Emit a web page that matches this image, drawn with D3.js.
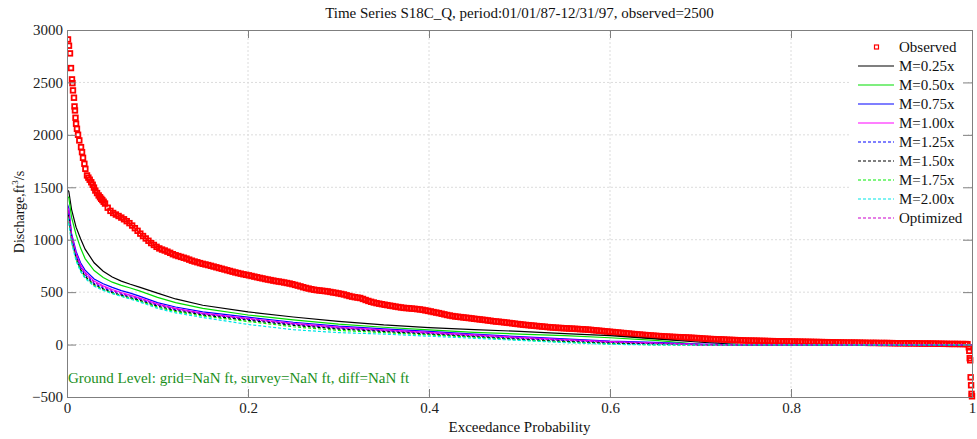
<!DOCTYPE html>
<html>
<head>
<meta charset="utf-8">
<script src="https://cdn.jsdelivr.net/npm/d3@7"></script>
<style>
  body { margin: 0; background: #fff; }
  text { font-family: "Liberation Serif", "Times New Roman", serif; }
</style>
</head>
<body>
<div id="chart"></div>
<script>
// exceedance probability grid for the simulated curves
const pGrid = [0, 0.002, 0.005, 0.01, 0.015, 0.02, 0.03, 0.04, 0.05, 0.06, 0.07, 0.08, 0.1, 0.12, 0.15, 0.2, 0.25, 0.3, 0.35, 0.4, 0.45, 0.5, 0.55, 0.6, 0.65, 0.7, 0.75, 0.8, 0.9, 1.0]

const m025 = [1480, 1460, 1290, 1120, 1010, 910, 780, 700, 645, 605, 575, 548, 490, 435, 375, 312, 263, 222, 187, 162, 143, 126, 105, 85, 55, 22, -3, -3, -3, -3]
const m050 = [1420, 1400, 1215, 1050, 920, 820, 706, 640, 595, 565, 540, 512, 450, 400, 345, 282, 236, 195, 165, 140, 117, 100, 86, 65, 40, 3, -3, -3, -3, -3]
const m075 = [1350, 1300, 1060, 890, 780, 710, 625, 580, 545, 515, 490, 462, 400, 358, 312, 262, 213, 175, 150, 125, 100, 75, 55, 32, 20, 5, -3, -3, -3, -3]
const m100 = [1330, 1270, 1040, 870, 760, 690, 605, 560, 525, 497, 472, 446, 388, 346, 300, 250, 203, 166, 141, 116, 93, 68, 48, 28, 15, 3, -3, -3, -3, -3]
const m125 = [1300, 1240, 1020, 845, 735, 665, 585, 540, 505, 480, 456, 432, 376, 334, 290, 240, 193, 156, 131, 106, 82, 58, 38, 20, 8, -3, -3, -3, -3, -3]
const m150 = [1280, 1210, 1005, 828, 718, 650, 572, 530, 495, 470, 446, 422, 366, 325, 282, 232, 184, 148, 124, 99, 75, 50, 30, 13, 3, -3, -3, -3, -3, -3]
const m175 = [1265, 1180, 990, 812, 705, 640, 563, 522, 490, 463, 440, 414, 356, 315, 272, 220, 170, 135, 114, 92, 70, 44, 24, 7, -3, -3, -3, -3, -3, -3]
const m200 = [1255, 1150, 975, 800, 695, 632, 556, 517, 486, 460, 434, 408, 345, 303, 258, 192, 142, 114, 100, 80, 60, 40, 18, 2, -3, -3, -3, -3, -3, -3]
const optimized = [1320, 1255, 1030, 858, 748, 678, 595, 550, 515, 488, 463, 439, 382, 340, 295, 245, 198, 161, 136, 111, 88, 63, 43, 24, 12, -3, -3, -3, -3, -3]

// observed flow duration points [exceedance probability, discharge]
const observed = [
  [0.0011, 2910], [0.0022, 2850], [0.0033, 2777], [0.0044, 2637], [0.0055, 2529], [0.006, 2493], [0.0066, 2424], [0.0077, 2354],
  [0.0083, 2271], [0.0088, 2233], [0.0094, 2163], [0.0100, 2106], [0.0110, 2058], [0.0122, 2001], [0.0136, 1947], [0.0155, 1883],
  [0.0166, 1835], [0.0177, 1781], [0.0192, 1724], [0.0203, 1676], [0.0221, 1613], [0.0236, 1592], [0.0251, 1572], [0.0268, 1548],
  [0.0284, 1524], [0.0298, 1497], [0.0313, 1469], [0.0332, 1445], [0.035, 1422], [0.0365, 1405], [0.0378, 1390], [0.039, 1378], [0.0405, 1362],
  [0.042, 1345], [0.045, 1305], [0.048, 1275], [0.051, 1255], [0.054, 1240], [0.057, 1226], [0.060, 1211], [0.063, 1195], [0.066, 1177],
  [0.069, 1158], [0.072, 1135], [0.075, 1110], [0.078, 1085], [0.081, 1058], [0.084, 1035], [0.087, 1012], [0.090, 990], [0.093, 968],
  [0.096, 950], [0.099, 932], [0.102, 917], [0.105, 906], [0.108, 897], [0.111, 886], [0.114, 875], [0.117, 862], [0.120, 852],
  [0.123, 844], [0.126, 836], [0.129, 828], [0.132, 820], [0.135, 810], [0.138, 800], [0.141, 792], [0.144, 785], [0.147, 777],
  [0.150, 770], [0.153, 764], [0.156, 758], [0.159, 751], [0.162, 744], [0.165, 737], [0.168, 730], [0.171, 723], [0.174, 716],
  [0.177, 709], [0.180, 702], [0.183, 695], [0.186, 688], [0.189, 682], [0.192, 676], [0.195, 670], [0.198, 665], [0.201, 660],
  [0.204, 654], [0.207, 648], [0.210, 642], [0.213, 636], [0.216, 631], [0.219, 625], [0.222, 620], [0.225, 615], [0.228, 610],
  [0.231, 605], [0.234, 601], [0.237, 597], [0.240, 592], [0.243, 587], [0.246, 582], [0.249, 576], [0.252, 569], [0.255, 562],
  [0.258, 555], [0.261, 547], [0.264, 540], [0.267, 534], [0.270, 528], [0.273, 523], [0.276, 519], [0.279, 516], [0.282, 513],
  [0.285, 510], [0.288, 507], [0.291, 502], [0.294, 497], [0.297, 493], [0.300, 488], [0.303, 483], [0.306, 478], [0.309, 470],
  [0.312, 463], [0.315, 457], [0.318, 452], [0.321, 448], [0.324, 444], [0.327, 435], [0.330, 425], [0.333, 416], [0.336, 408],
  [0.339, 401], [0.342, 395], [0.345, 390], [0.348, 385], [0.351, 380], [0.354, 376], [0.357, 371], [0.360, 367], [0.363, 362],
  [0.366, 358], [0.369, 354], [0.372, 350], [0.375, 348], [0.378, 346], [0.381, 343], [0.384, 341], [0.387, 338], [0.390, 335],
  [0.393, 331], [0.396, 326], [0.399, 321], [0.402, 316], [0.405, 310], [0.408, 305], [0.411, 300], [0.414, 294], [0.417, 288],
  [0.420, 282], [0.423, 277], [0.426, 272], [0.429, 268], [0.432, 265], [0.435, 262], [0.438, 259], [0.441, 256], [0.444, 253],
  [0.447, 250], [0.450, 246], [0.453, 243], [0.456, 240], [0.459, 237], [0.462, 234], [0.465, 230], [0.468, 227], [0.471, 223],
  [0.474, 220], [0.477, 218], [0.480, 215], [0.483, 212], [0.486, 209], [0.489, 206], [0.492, 203], [0.495, 199], [0.498, 196],
  [0.501, 193], [0.504, 190], [0.507, 187], [0.510, 185], [0.513, 182], [0.516, 180], [0.519, 177], [0.522, 175], [0.525, 172],
  [0.528, 170], [0.531, 167], [0.534, 165], [0.537, 163], [0.540, 161], [0.543, 159], [0.546, 158], [0.549, 156], [0.552, 155],
  [0.555, 153], [0.558, 152], [0.561, 150], [0.564, 149], [0.567, 147], [0.570, 146], [0.573, 144], [0.576, 142], [0.579, 140],
  [0.582, 137], [0.585, 135], [0.588, 132], [0.591, 130], [0.594, 127], [0.597, 125], [0.600, 122], [0.603, 120], [0.606, 117],
  [0.609, 115], [0.612, 112], [0.615, 110], [0.618, 107], [0.621, 105], [0.624, 102], [0.627, 100], [0.630, 97], [0.633, 95],
  [0.636, 93], [0.639, 91], [0.642, 89], [0.645, 87], [0.648, 85], [0.651, 83], [0.654, 81], [0.657, 80], [0.660, 78],
  [0.663, 76], [0.666, 75], [0.669, 73], [0.672, 72], [0.675, 71], [0.678, 70], [0.681, 69], [0.684, 68], [0.687, 66],
  [0.690, 65], [0.693, 63], [0.696, 62], [0.699, 60], [0.702, 58], [0.705, 56], [0.708, 55], [0.711, 53], [0.714, 52],
  [0.717, 51], [0.720, 50], [0.723, 49], [0.726, 48], [0.729, 46], [0.732, 45], [0.735, 44], [0.738, 43], [0.741, 42],
  [0.744, 41], [0.747, 40], [0.750, 39], [0.753, 38], [0.756, 38], [0.759, 37], [0.762, 37], [0.765, 36], [0.768, 35],
  [0.771, 35], [0.774, 34], [0.777, 33], [0.780, 33], [0.783, 32], [0.786, 32], [0.789, 31], [0.792, 31], [0.795, 30],
  [0.798, 30], [0.801, 29], [0.804, 29], [0.807, 28], [0.810, 28], [0.813, 27], [0.816, 27], [0.819, 26], [0.822, 26],
  [0.825, 25], [0.828, 25], [0.831, 24], [0.834, 24], [0.837, 23], [0.840, 23], [0.843, 22], [0.846, 22], [0.849, 21],
  [0.852, 21], [0.855, 20], [0.858, 20], [0.861, 19], [0.864, 19], [0.867, 19], [0.870, 19], [0.873, 18], [0.876, 18],
  [0.879, 17], [0.882, 17], [0.885, 16], [0.888, 16], [0.891, 16], [0.894, 16], [0.897, 15], [0.900, 15], [0.903, 15],
  [0.906, 15], [0.909, 14], [0.912, 14], [0.915, 13], [0.918, 13], [0.921, 13], [0.924, 13], [0.927, 12], [0.930, 12],
  [0.933, 12], [0.936, 12], [0.939, 11], [0.942, 11], [0.945, 10], [0.948, 10], [0.951, 10], [0.954, 10], [0.957, 9],
  [0.960, 9], [0.963, 8], [0.966, 8], [0.969, 7], [0.972, 7], [0.975, 6], [0.978, 6], [0.981, 6], [0.984, 6], [0.987, 5], [0.990, 5],
  [0.993, 5], [0.995, 4], [0.9965, -26], [0.997, -60], [0.9975, -130], [0.998, -150], [0.9985, -312], [0.999, -388], [0.9995, -470], [1.0, -493]
]

const xTicks = [0, 0.2, 0.4, 0.6, 0.8, 1]
const yTicks = [-500, 0, 500, 1000, 1500, 2000, 2500, 3000]

const series = [
  { name: "M=0.25x", values: m025, color: "#000000", dash: null },
  { name: "M=0.50x", values: m050, color: "#00dd00", dash: null },
  { name: "M=0.75x", values: m075, color: "#0000ff", dash: null },
  { name: "M=1.00x", values: m100, color: "#ff00ff", dash: null },
  { name: "M=1.25x", values: m125, color: "#0000ff", dash: "3,2" },
  { name: "M=1.50x", values: m150, color: "#000000", dash: "3,2" },
  { name: "M=1.75x", values: m175, color: "#00ee00", dash: "3,2" },
  { name: "M=2.00x", values: m200, color: "#00e5e5", dash: "3,2" },
  { name: "Optimized", values: optimized, color: "#cc00cc", dash: "3,2" }
]

const W = 977, H = 439
const margin = { top: 30, right: 5, bottom: 42, left: 67 }
const width = W - margin.left - margin.right,
    height = H - margin.top - margin.bottom
const fs = 15

const svg = d3.select("#chart").append("svg")
    .attr("width", W).attr("height", H)

const x = d3.scaleLinear().domain([0, 1]).range([margin.left, margin.left + width])
const y = d3.scaleLinear().domain([-500, 3000]).range([margin.top + height, margin.top])

svg.append("defs").append("clipPath").attr("id", "plotclip")
    .append("rect").attr("x", margin.left).attr("y", margin.top - 4)
    .attr("width", width + 4).attr("height", height + 8)

// grid
const grid = svg.append("g")
grid.selectAll(".gx").data(xTicks.slice(1, -1)).join("line")
    .attr("x1", d => x(d)).attr("x2", d => x(d))
    .attr("y1", margin.top).attr("y2", margin.top + height)
    .attr("stroke", "#dcdcdc").attr("stroke-dasharray", "2,2")
grid.selectAll(".gy").data(yTicks.slice(1, -1)).join("line")
    .attr("y1", d => y(d)).attr("y2", d => y(d))
    .attr("x1", margin.left).attr("x2", margin.left + width)
    .attr("stroke", "#dcdcdc").attr("stroke-dasharray", "2,2")

const plot = svg.append("g").attr("clip-path", "url(#plotclip)")

// observed squares
plot.selectAll(".obs").data(observed).join("rect")
    .attr("x", d => x(d[0]) - 2.3).attr("y", d => y(d[1]) - 2.3)
    .attr("width", 4.6).attr("height", 4.6)
    .attr("fill", "none").attr("stroke", "#ff0000").attr("stroke-width", 1.8)

const line = d3.line().x((d, i) => x(pGrid[i])).y(d => y(d))
series.forEach(s => {
    plot.append("path")
        .datum(s.values)
        .attr("fill", "none")
        .attr("stroke", s.color)
        .attr("stroke-width", 1.2)
        .attr("stroke-dasharray", s.dash)
        .attr("d", line)
})

// ground level note
svg.append("text")
    .attr("x", margin.left + 1).attr("y", 383)
    .attr("fill", "#1a8f1a").attr("font-size", fs)
    .text("Ground Level: grid=NaN ft, survey=NaN ft, diff=NaN ft")

// legend
const lg = svg.append("g")
lg.append("rect").attr("x", 851).attr("y", 35).attr("width", 117).attr("height", 192).attr("fill", "#fff")
lg.append("rect").attr("x", 874.5).attr("y", 45).attr("width", 4).attr("height", 4)
    .attr("fill", "none").attr("stroke", "#ff0000").attr("stroke-width", 1.2)
lg.append("text").attr("x", 899).attr("y", 52).attr("font-size", fs).attr("fill", "#111").text("Observed")
series.forEach((s, i) => {
    const yy = 66 + i * 19
    lg.append("line").attr("x1", 858).attr("x2", 894).attr("y1", yy).attr("y2", yy)
        .attr("stroke", s.color).attr("stroke-width", 1.2).attr("stroke-dasharray", s.dash)
    lg.append("text").attr("x", 899).attr("y", yy + 5).attr("font-size", fs).attr("fill", "#111").text(s.name)
})

// axes: ticks pointing in, mirrored on top/right
const axisColor = "#7f7f7f"
const axB = svg.append("g").attr("transform", "translate(0," + (margin.top + height) + ")")
    .call(d3.axisBottom(x).tickValues(xTicks).tickSize(-8).tickPadding(5).tickFormat(d3.format("~g")))
const axT = svg.append("g").attr("transform", "translate(0," + margin.top + ")")
    .call(d3.axisTop(x).tickValues(xTicks).tickSize(-8).tickFormat(""))
const axL = svg.append("g").attr("transform", "translate(" + margin.left + ",0)")
    .call(d3.axisLeft(y).tickValues(yTicks).tickSize(-9).tickPadding(4).tickFormat(d3.format("d")))
const axR = svg.append("g").attr("transform", "translate(" + (margin.left + width) + ",0)")
    .call(d3.axisRight(y).tickValues(yTicks).tickSize(-9).tickFormat(""))
;[axB, axT, axL, axR].forEach(g => {
    g.select(".domain").attr("stroke", axisColor)
    g.selectAll(".tick line").attr("stroke", axisColor)
    g.selectAll(".tick text").attr("font-size", fs).attr("fill", "#222")
        .style("font-family", "'Liberation Serif', serif")
})

// titles
svg.append("text").attr("x", (margin.left + margin.left + width) / 2).attr("y", 18)
    .attr("text-anchor", "middle").attr("font-size", fs).attr("fill", "#111")
    .text("Time Series S18C_Q, period:01/01/87-12/31/97, observed=2500")
svg.append("text").attr("x", (margin.left + margin.left + width) / 2).attr("y", 432)
    .attr("text-anchor", "middle").attr("font-size", fs).attr("fill", "#111")
    .text("Exceedance Probability")
const yl = svg.append("text").attr("transform", "translate(24,212) rotate(-90)")
    .attr("text-anchor", "middle").attr("font-size", 14).attr("fill", "#111")
yl.append("tspan").text("Discharge,ft")
yl.append("tspan").attr("font-size", 9).attr("dy", -6).text("3")
yl.append("tspan").attr("dy", 6).text("/s")
</script>
</body>
</html>
